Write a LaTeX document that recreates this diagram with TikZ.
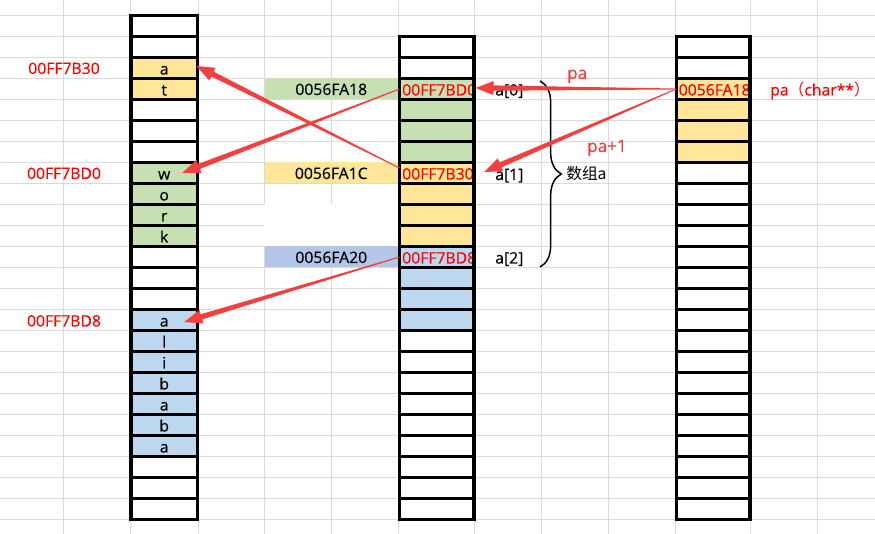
\documentclass[tikz,border=0pt]{standalone}
\usepackage{fontspec}
\setmainfont{Open Sans}[FakeBold=0.35]
\newfontfamily\cjk{Noto Sans CJK SC}
\usetikzlibrary{calc,decorations.pathreplacing}
\definecolor{gridgray}{RGB}{218,218,218}
\definecolor{cy}{HTML}{FFE699}
\definecolor{cg}{HTML}{C6E0B4}
\definecolor{cb}{HTML}{BDD7EE}
\definecolor{cl}{HTML}{B4C6E7}
\definecolor{ared}{RGB}{240,64,64}
\definecolor{tred}{RGB}{255,0,0}
\tikzset{
  gridline/.style={draw=gridgray, line width=0.75pt},
  cellbox/.style={draw=black, line width=2.5pt, minimum width=#1, minimum height=15.75pt, inner sep=0pt, outer sep=0pt},
  band/.style={minimum width=100.1pt, minimum height=15.75pt, inner sep=0pt, outer sep=0pt},
  txt/.style={font=\fontsize{11.8}{14}\selectfont, inner sep=0pt, text=black},
  rtxt/.style={txt, text=tred},
  atxt/.style={txt, text=ared, font=\fontsize{12.8}{15}\selectfont},
}
\newcommand\taperarrow[2]{%
  \coordinate (tb) at ($(#2)!13.5pt!(#1)$);
  \fill[ared] ($(#1)!0.35pt!90:(#2)$) -- ($(tb)!2pt!90:(#2)$) -- ($(tb)!5.25pt!90:(#2)$) -- (#2)
    -- ($(tb)!5.25pt!-90:(#2)$) -- ($(tb)!2pt!-90:(#2)$) -- ($(#1)!0.35pt!-90:(#2)$) -- cycle;
}
\begin{document}
\begin{tikzpicture}[x=0.75pt, y=-0.75pt]
\useasboundingbox (0,0) rectangle (875,534);
\fill[white] (0,0) rectangle (875,534);
% spreadsheet gridlines
\foreach \x in {63.5,130.5,198,264.5,331.5,398,474.5,541.5,608,675,750.5,817.5}
  \draw[gridline] (\x,0) -- (\x,534);
\foreach \k in {0,...,24}
  \draw[gridline] (0,{15.5+21*\k}) -- (875,{15.5+21*\k});
\fill[white] (263.5,203.9) rectangle (398.5,246);
% address bands
\node[band, fill=cg] (b18) at (331.25,89) {};
\node[band, fill=cy] (b1c) at (331.25,173) {};
\node[band, fill=cl] (b20) at (331.25,257) {};
\node[txt, anchor=base] (t18) at (b18.center |- 0,95) {0056FA18};
\node[txt, anchor=base] (t1c) at (b1c.center |- 0,179) {0056FA1C};
\node[txt, anchor=base] (t20) at (b20.center |- 0,263) {0056FA20};
% left box (strings)
\foreach \i/\c in {0/white,1/white,2/cy,3/cy,4/white,5/white,6/white,7/cg,8/cg,9/cg,10/cg,11/white,12/white,13/white,14/cb,15/cb,16/cb,17/cb,18/cb,19/cb,20/cb,21/white,22/white,23/white}
  \node[cellbox=49.8pt, fill=\c] (L\i) at (164.2,{26+21*\i}) {};
\foreach \i/\t in {2/a,3/t,7/w,8/o,9/r,10/k,14/a,15/l,16/i,17/b,18/a,19/b,20/a}
  \node[txt, anchor=base] (c\i) at (164.2,{15.5+21*(\i+1)-4}) {\t};
% middle box (array a)
\foreach \j/\c in {0/white,1/white,2/cg,3/cg,4/cg,5/cg,6/cy,7/cy,8/cy,9/cy,10/cb,11/cb,12/cb,13/cb,14/white,15/white,16/white,17/white,18/white,19/white,20/white,21/white,22/white}
  \node[cellbox=55.9pt, fill=\c] (M\j) at (436.75,{47+21*\j}) {};
% right box (pa)
\foreach \j/\c in {0/white,1/white,2/cy,3/cy,4/cy,5/cy,6/white,7/white,8/white,9/white,10/white,11/white,12/white,13/white,14/white,15/white,16/white,17/white,18/white,19/white,20/white,21/white,22/white}
  \node[cellbox=55.3pt, fill=\c] (R\j) at (713.1,{47+21*\j}) {};
% red addresses inside boxes
\begin{scope}
\clip (400.5,30) rectangle (473,300);
\node[rtxt, anchor=base west] (m2t) at (402,95.5) {00FF7BD0};
\node[rtxt, anchor=base west] (m6t) at (402,179.5) {00FF7B30};
\node[rtxt, anchor=base west] (m10t) at (402,263.5) {00FF7BD8};
\end{scope}
\begin{scope}
\clip (677.5,30) rectangle (749,120);
\node[rtxt, anchor=base west] (r2t) at (678.5,95.5) {0056FA18};
\end{scope}
% redraw borders over clipped text
\foreach \j in {2,6,10}
  \draw[black, line width=2.5pt] (M\j.north west) rectangle (M\j.south east);
\draw[black, line width=2.5pt] (R2.north west) rectangle (R2.south east);
% left address labels
\node[rtxt, anchor=base] (a30) at (64,74) {00FF7B30};
\node[rtxt, anchor=base] (ad0) at (64,179) {00FF7BD0};
\node[rtxt, anchor=base] (ad8) at (64,326.5) {00FF7BD8};
% array element labels
\node[txt, anchor=base west] (a0) at (495,95.5) {a[0]};
\node[txt, anchor=base west] (a1) at (495,180) {a[1]};
\node[txt, anchor=base west] (a2) at (495,263.5) {a[2]};
\node[txt, anchor=base west] (arr) at (566,180) {\cjk 数组a};
\node[rtxt, anchor=base west] (patype) at (770,95.5) {pa{\cjk （}char**{\cjk ）}};
\node[atxt, anchor=base west] (palab) at (567,79) {pa};
\node[atxt, anchor=base west] (pa1lab) at (587,152) {pa+1};
% brace
\coordinate (brT) at (540,81);
\coordinate (brB) at (540,267);
\draw[decorate, decoration={brace, amplitude=16pt}, line width=1.1pt] (brT) -- (brB);
% arrows
\coordinate (tipPa) at ($(M2.east)+(1.5,-1)$);
\coordinate (tipPa1) at ($(M6.east)+(10,-1)$);
\coordinate (tipW) at ($(L7.center)+(18,0)$);
\coordinate (tipA) at ($(L2.east)+(-1,-2)$);
\coordinate (tipAb) at ($(L14.center)+(20,2)$);
\coordinate (tailB30) at ($(M6.west)+(0,-5)$);
\taperarrow{R2.west}{tipPa}
\taperarrow{R2.west}{tipPa1}
\taperarrow{M2.west}{tipW}
\taperarrow{tailB30}{tipA}
\taperarrow{M10.west}{tipAb}
\end{tikzpicture}
\end{document}
